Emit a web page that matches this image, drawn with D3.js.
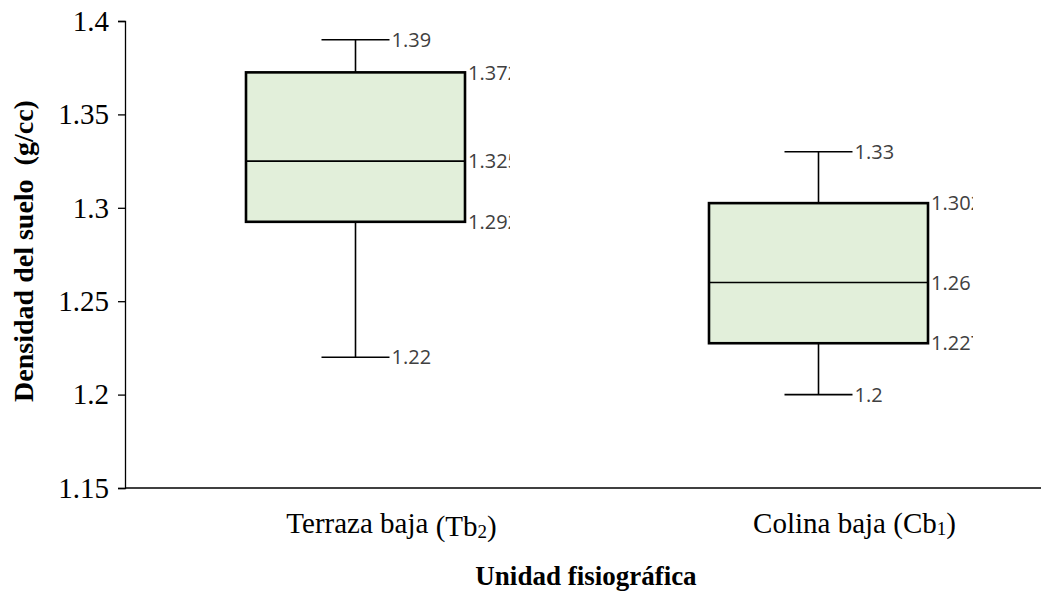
<!DOCTYPE html>
<html><head><meta charset="utf-8">
<script src="https://cdn.jsdelivr.net/npm/d3@7"></script>
<style>body{margin:0;background:#fff}</style>
</head><body>
<svg id="c" width="1041" height="592"></svg>
<script>
const categories = ["Terraza baja", "Colina baja"];
const catSub = ["Tb", "Cb"];
const catSubIdx = ["2", "1"];
const mins = [1.22, 1.2];
const q1s = [1.2925, 1.2275];
const medians = [1.325, 1.26];
const q3s = [1.3725, 1.3025];
const maxs = [1.39, 1.33];
const yTicks = [1.15, 1.2, 1.25, 1.3, 1.35, 1.4];
const yTickLabels = ["1.15", "1.2", "1.25", "1.3", "1.35", "1.4"];

const svg = d3.select("#c");
const W = 1041;
const axisX = 125;
const y = d3.scaleLinear().domain([1.15, 1.4]).range([488, 21]);
const x = d3.scaleBand().domain(categories).range([124, 1050]).padding(0);
const serif = "'Liberation Serif','Times New Roman',serif";

// axes
const yAxis = d3.axisLeft(y).tickValues(yTicks).tickFormat((d,i)=>yTickLabels[i]).tickSize(7).tickPadding(9);
const gy = svg.append("g").attr("transform", `translate(${axisX},0)`).call(yAxis);
gy.select(".domain").attr("stroke","#000").attr("stroke-width",1.3);
gy.selectAll(".tick line").attr("stroke","#000").attr("stroke-width",1.3);
gy.selectAll(".tick text").attr("font-family",serif).attr("font-size",29).attr("fill","#000");

svg.append("line").attr("x1", axisX).attr("x2", W).attr("y1", y(1.15)).attr("y2", y(1.15))
  .attr("stroke","#000").attr("stroke-width",1.3);

const bw = 219, capHalf = 34;
const defs = svg.append("defs");
let clipId = 0;
function label(xp, yp, txt){
  const id = "cl"+(clipId++);
  defs.append("clipPath").attr("id", id).append("rect")
    .attr("x", xp).attr("y", yp-16).attr("width", 42).attr("height", 32);
  svg.append("text").attr("x", xp).attr("y", yp).attr("dy","0.36em")
    .attr("clip-path", `url(#${id})`)
    .attr("font-family","'Open Sans','Liberation Sans',sans-serif")
    .attr("font-size",20).attr("fill","#404040").text(txt);
}

categories.forEach((c,i)=>{
  const cx = x(c) + x.bandwidth()/2;
  const x0 = cx - bw/2, x1 = cx + bw/2;
  // whiskers
  svg.append("line").attr("x1",cx).attr("x2",cx).attr("y1",y(maxs[i])).attr("y2",y(q3s[i])).attr("stroke","#000").attr("stroke-width",1.6);
  svg.append("line").attr("x1",cx).attr("x2",cx).attr("y1",y(q1s[i])).attr("y2",y(mins[i])).attr("stroke","#000").attr("stroke-width",1.6);
  svg.append("line").attr("x1",cx-capHalf).attr("x2",cx+capHalf).attr("y1",y(maxs[i])).attr("y2",y(maxs[i])).attr("stroke","#000").attr("stroke-width",1.6);
  svg.append("line").attr("x1",cx-capHalf).attr("x2",cx+capHalf).attr("y1",y(mins[i])).attr("y2",y(mins[i])).attr("stroke","#000").attr("stroke-width",1.6);
  // box
  svg.append("rect").attr("x",x0).attr("y",y(q3s[i])).attr("width",bw).attr("height",y(q1s[i])-y(q3s[i]))
    .attr("fill","#e2efda").attr("stroke","#000").attr("stroke-width",2.6);
  svg.append("line").attr("x1",x0).attr("x2",x1).attr("y1",y(medians[i])).attr("y2",y(medians[i])).attr("stroke","#000").attr("stroke-width",1.6);
  // labels
  label(cx+capHalf+2, y(maxs[i]), String(maxs[i]));
  label(cx+capHalf+2, y(mins[i]), String(mins[i]));
  label(x1+3, y(q3s[i]), String(q3s[i]));
  label(x1+3, y(medians[i]), String(medians[i]));
  label(x1+3, y(q1s[i]), String(q1s[i]));
  // category label
  const t = svg.append("text").attr("x", cx + 36).attr("y", 533).attr("text-anchor","middle")
    .attr("font-family",serif).attr("font-size",29).attr("fill","#000");
  t.append("tspan").text(c + " ");
  t.append("tspan").attr("dy", i===0 ? 3 : 0).text("(" + catSub[i]);
  t.append("tspan").attr("font-size",19).attr("dy",2).text(catSubIdx[i]);
  t.append("tspan").attr("dy",-2).text(")");
});

svg.append("text").attr("x", 586).attr("y", 585).attr("text-anchor","middle")
  .attr("font-family",serif).attr("font-weight","bold").attr("font-size",27).text("Unidad fisiográfica");
svg.append("text").attr("transform","translate(33,251) rotate(-90)").attr("text-anchor","middle")
  .attr("font-family",serif).attr("font-weight","bold").attr("font-size",28).attr("xml:space","preserve")
  .style("white-space","pre").text("Densidad del suelo  (g/cc)");
</script>
</body></html>
